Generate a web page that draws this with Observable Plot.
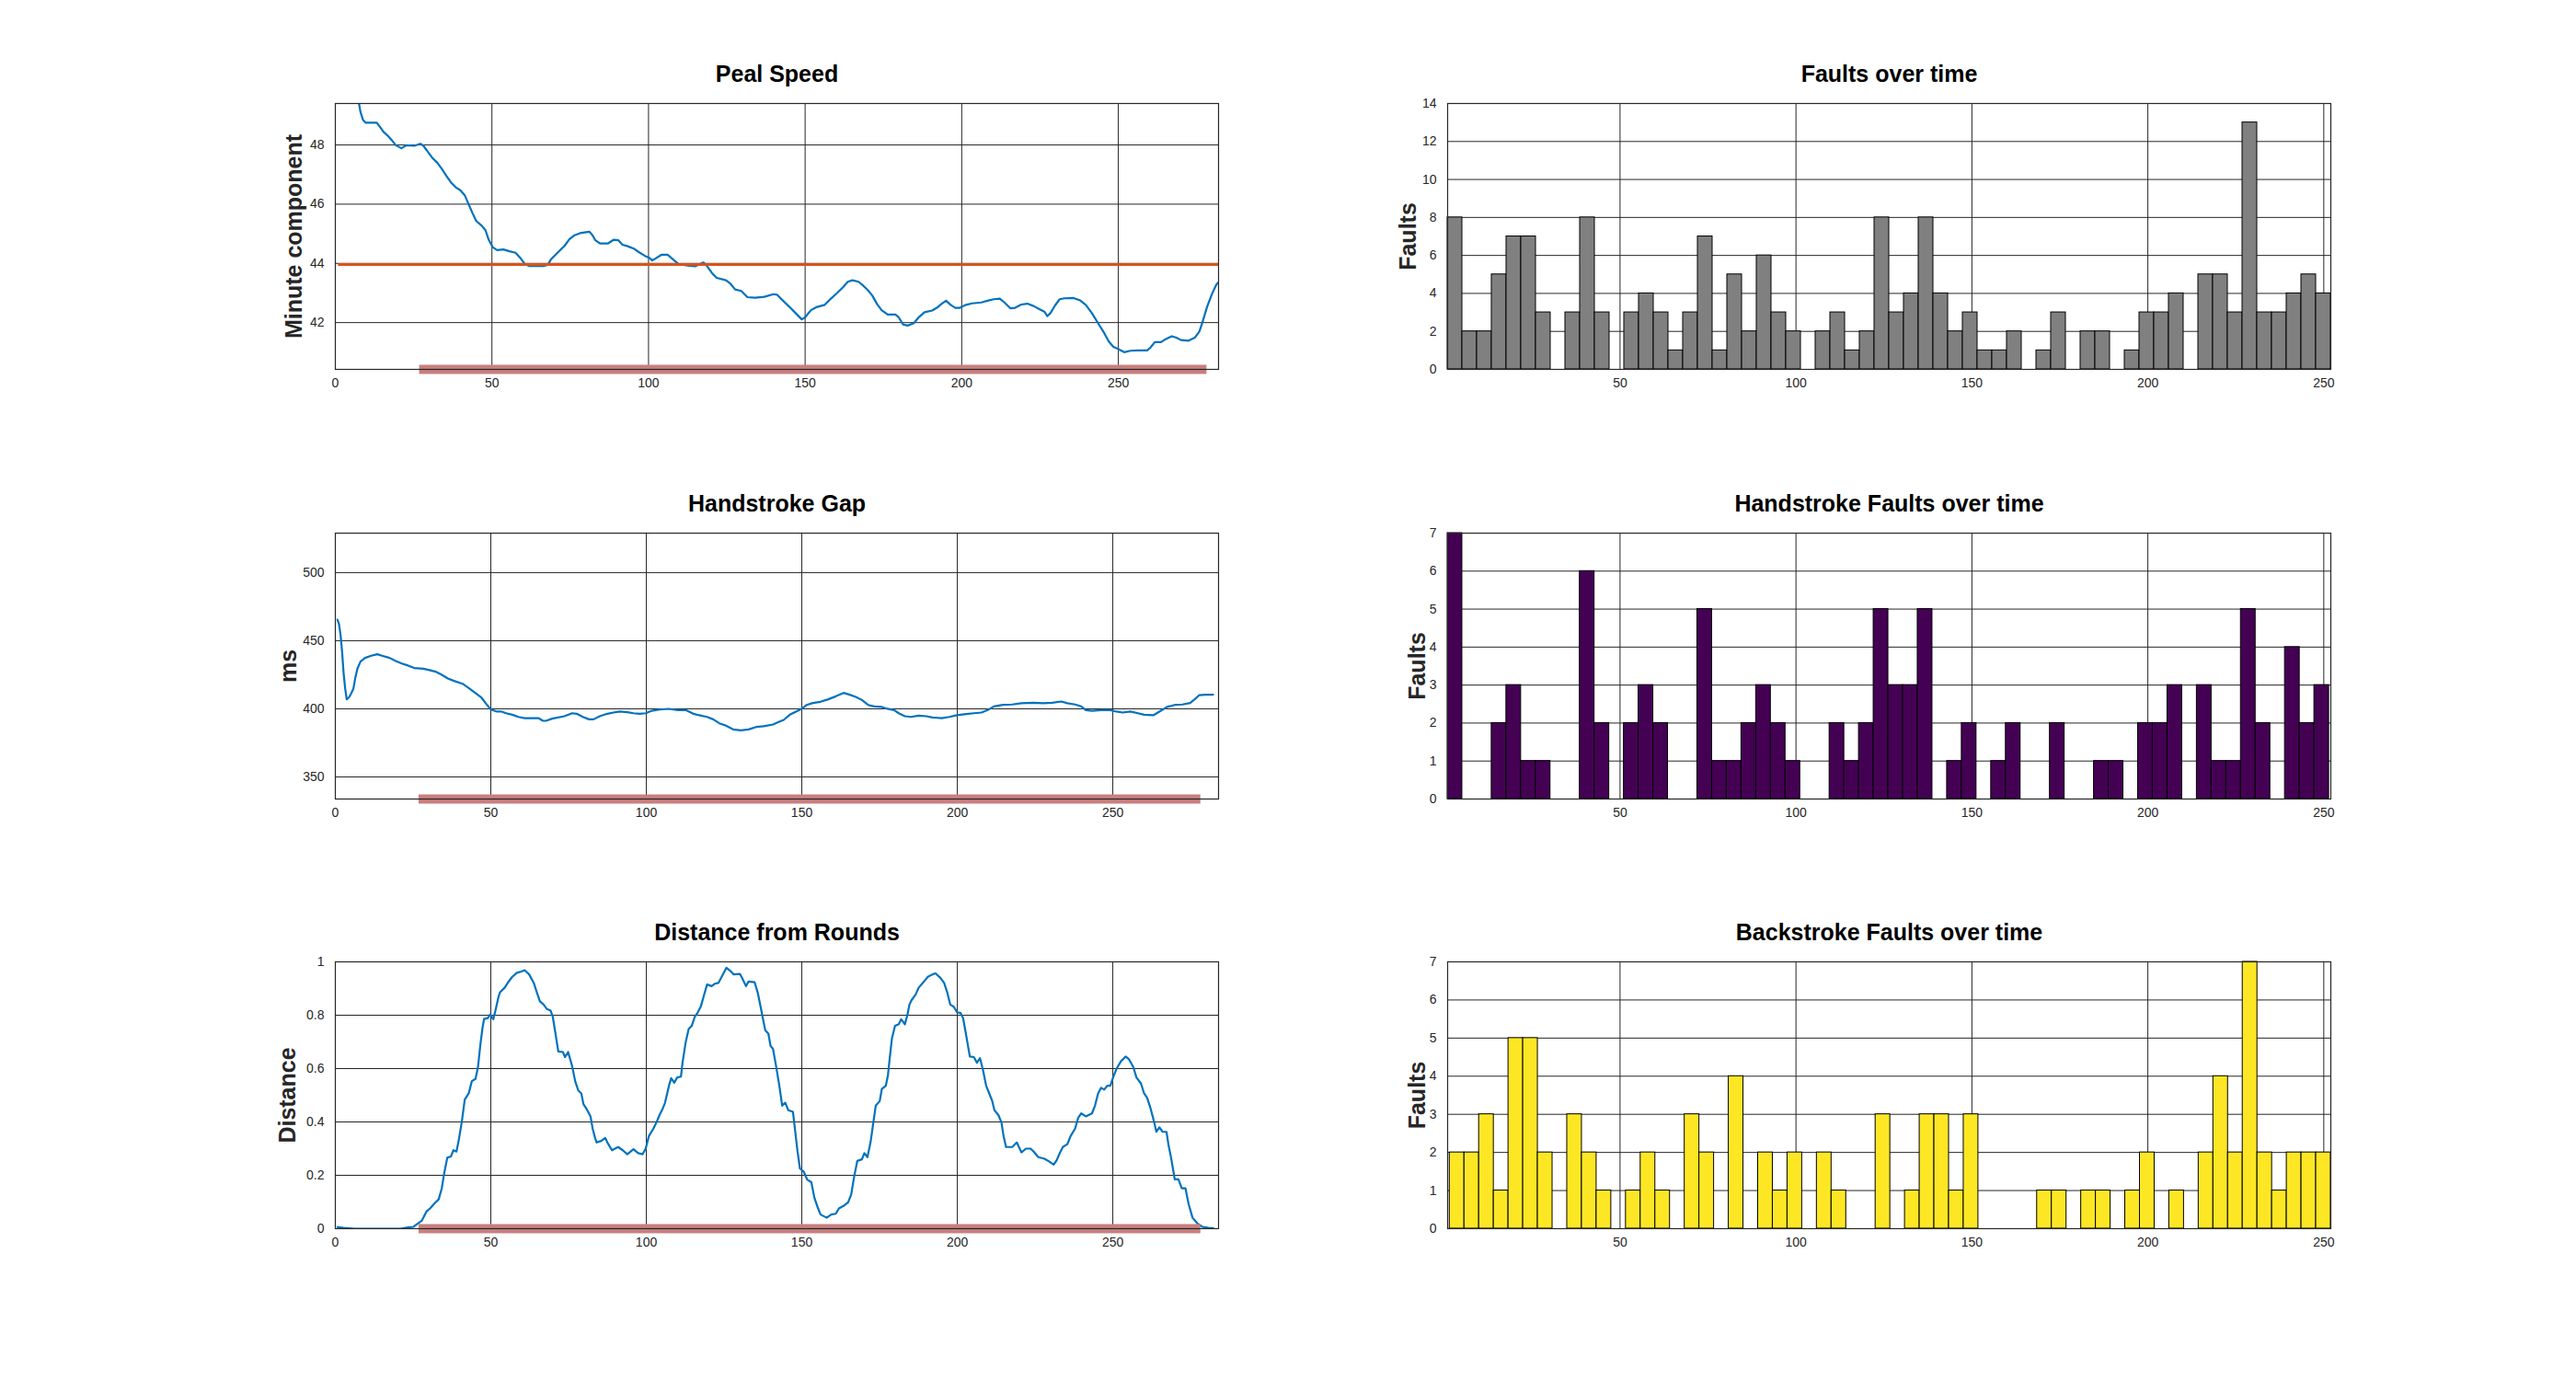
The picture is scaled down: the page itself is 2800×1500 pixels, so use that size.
<!DOCTYPE html>
<html>
<head>
<meta charset="utf-8">
<script src="https://cdn.jsdelivr.net/npm/d3@7"></script>
<script src="https://cdn.jsdelivr.net/npm/@observablehq/plot@0.6"></script>
<style>
  html, body { margin: 0; padding: 0; background: #fff; }
  #page { position: relative; width: 2800px; height: 1500px; background: #fff; overflow: hidden; }
  .chart { position: absolute; }
</style>
</head>
<body>
<div id="page"></div>
<script>
// ---------------- data ----------------
const titles = ["Peal Speed", "Handstroke Gap", "Distance from Rounds",
                "Faults over time", "Handstroke Faults over time", "Backstroke Faults over time"];
const yLabels = ["Minute component", "ms", "Distance", "Faults", "Faults", "Faults"];

const xTicksLine = [0, 50, 100, 150, 200, 250];
const xTicksHist = [50, 100, 150, 200, 250];
const pealTicks = [42, 44, 46, 48];
const gapTicks = [350, 400, 450, 500];
const distTicks = [0, 0.2, 0.4, 0.6, 0.8, 1];
const faultTicks = [0, 2, 4, 6, 8, 10, 12, 14];
const strokeTicks = [0, 1, 2, 3, 4, 5, 6, 7];

const targetSpeed = 43.96;          // orange reference line
const targetSpan = [1, 282];
const touchSpan = [26.9, 278.3];    // red bar under the line charts

// Peal speed (minute component) [change, value]
const pealSpeed = [
  [6.9,50.0],[7.55,49.40],[8.04,49.11],[8.82,48.85],[9.71,48.75],[13.24,48.75],[14.41,48.59],[15.39,48.44],
  [16.86,48.30],[18.04,48.16],[19.31,47.99],[21.08,47.89],[22.75,47.99],[25.2,47.97],[27.16,48.04],[28.14,47.97],
  [29.61,47.76],[31.08,47.55],[32.55,47.40],[34.02,47.19],[35.49,46.95],[36.96,46.73],[38.43,46.57],[39.9,46.47],
  [41.37,46.29],[42.35,46.05],[43.82,45.69],[45.0,45.43],[46.76,45.27],[47.94,45.12],[48.92,44.81],[50.2,44.55],
  [51.67,44.45],[53.63,44.47],[55.59,44.41],[57.55,44.36],[59.02,44.19],[60.49,43.98],[61.96,43.91],[66.37,43.91],
  [67.84,43.95],[68.82,44.13],[70.78,44.34],[73.24,44.60],[74.71,44.81],[76.18,44.94],[78.14,45.02],[81.08,45.07],
  [82.06,44.96],[83.04,44.78],[84.51,44.67],[86.96,44.67],[88.92,44.80],[90.39,44.78],[91.67,44.63],[93.33,44.58],
  [95.29,44.50],[96.76,44.39],[98.73,44.26],[100.2,44.19],[101.18,44.10],[102.16,44.16],[104.12,44.29],[106.08,44.29],
  [107.55,44.16],[109.51,43.98],[112.45,43.93],[114.9,43.90],[116.37,43.98],[117.55,44.03],[118.53,43.93],[120.29,43.67],
  [121.76,43.51],[124.71,43.43],[126.18,43.31],[127.65,43.12],[129.61,43.07],[131.57,42.86],[134.02,42.84],[136.96,42.87],
  [139.9,42.96],[141.08,42.94],[142.55,42.78],[145.0,42.53],[146.96,42.32],[148.92,42.11],[149.9,42.17],[151.86,42.42],
  [153.82,42.53],[156.27,42.60],[158.24,42.81],[160.2,43.0],[162.16,43.20],[163.63,43.38],[165.1,43.43],[167.06,43.38],
  [168.53,43.25],[170.0,43.10],[171.47,42.91],[172.94,42.63],[174.41,42.42],[176.37,42.27],[178.82,42.27],[179.8,42.19],
  [181.27,41.94],[182.75,41.90],[184.71,41.98],[186.18,42.17],[188.14,42.35],[190.59,42.41],[192.06,42.50],[193.53,42.63],
  [195.0,42.74],[196.47,42.60],[197.94,42.50],[199.41,42.50],[201.37,42.60],[203.33,42.65],[206.27,42.68],[208.24,42.74],
  [210.2,42.79],[212.16,42.81],[213.63,42.68],[215.59,42.48],[217.06,42.50],[219.02,42.61],[220.98,42.64],[222.94,42.56],
  [224.9,42.45],[226.37,42.37],[227.35,42.22],[228.33,42.32],[229.8,42.58],[231.27,42.79],[232.75,42.82],[235.69,42.83],
  [237.65,42.76],[239.61,42.60],[241.57,42.32],[243.53,41.98],[245.49,41.65],[246.96,41.36],[248.43,41.18],[249.9,41.11],
  [251.86,41.0],[253.82,41.05],[256.27,41.06],[259.22,41.06],[260.2,41.15],[261.67,41.34],[263.63,41.34],[265.1,41.44],
  [267.06,41.54],[268.53,41.49],[270.0,41.41],[272.45,41.39],[274.41,41.49],[275.88,41.70],[276.86,42.01],[278.33,42.53],
  [279.8,42.94],[281.27,43.28],[282.25,43.39]
];

// Handstroke gap (ms) [change, value]
const handGap = [
  [0.69,465.5],[1.18,462.2],[1.68,454.3],[2.17,441.9],[2.66,426.1],[3.16,414.9],[3.65,407.0],[4.44,408.6],
  [5.13,411.5],[5.82,414.9],[6.41,422.7],[7.10,429.5],[8.09,434.7],[9.57,437.4],[11.54,439.0],[13.51,440.1],
  [14.99,439.0],[17.46,437.4],[19.43,435.1],[21.4,433.3],[23.37,431.8],[25.35,430.0],[28.3,429.5],[30.28,428.4],
  [32.25,427.3],[34.22,425.0],[36.19,422.3],[38.17,420.5],[41.12,418.2],[43.1,414.9],[45.07,411.5],[47.04,408.1],
  [48.52,403.6],[50.0,399.5],[51.97,398.0],[53.45,398.0],[54.93,396.8],[56.9,395.7],[58.88,394.1],[60.85,393.2],
  [65.29,393.2],[66.77,391.2],[67.75,391.2],[69.72,392.8],[73.67,394.6],[76.13,396.8],[77.61,396.4],[79.59,394.1],
  [81.56,392.3],[83.04,392.3],[85.01,394.6],[87.48,396.4],[89.45,397.3],[91.42,398.0],[93.89,397.5],[95.86,396.8],
  [97.83,396.4],[99.8,396.8],[101.77,398.6],[104.24,399.5],[107.2,400.0],[110.16,399.1],[112.63,399.1],[115.09,396.4],
  [117.06,395.3],[119.53,394.1],[121.5,392.3],[123.47,389.4],[125.45,387.8],[127.91,384.9],[130.38,384.2],[132.84,384.9],
  [135.31,386.7],[137.77,387.2],[140.73,388.5],[142.7,390.5],[144.18,391.9],[146.15,395.7],[148.13,398.0],[150.1,400.2],
  [151.58,402.9],[153.55,404.3],[156.02,405.2],[158.48,407.0],[160.95,409.2],[163.41,411.7],[165.38,410.4],[167.36,408.8],
  [169.33,406.5],[171.3,402.9],[173.27,401.8],[175.74,401.4],[177.22,400.2],[179.68,399.1],[181.16,396.8],[183.14,394.6],
  [185.11,394.1],[187.57,395.0],[190.04,394.6],[192.01,393.7],[194.97,393.2],[197.44,394.1],[199.9,395.3],[202.86,396.2],
  [205.33,396.8],[207.79,397.3],[209.76,399.1],[211.74,401.8],[214.69,402.9],[217.65,403.2],[220.61,404.1],[224.56,404.5],
  [227.51,404.1],[230.47,404.5],[233.43,405.4],[235.4,404.1],[237.87,403.2],[239.84,401.8],[241.32,399.1],[243.29,398.6],
  [246.25,399.1],[249.21,399.1],[251.18,398.0],[253.15,397.3],[255.62,398.0],[258.09,396.8],[260.06,395.7],[263.02,395.3],
  [264.99,398.0],[267.46,401.4],[269.92,402.9],[272.39,403.2],[274.85,404.3],[276.33,407.0],[277.81,410.1],[279.78,410.4],
  [282.25,410.4]
];

// Distance from rounds [change, value]
const distance = [
  [0.69,0.006],[2.66,0.003],[6.11,0],[20.91,0],[23.37,0.005],[25.15,0.007],[26.33,0.018],[27.81,0.030],
  [29.29,0.064],[30.47,0.076],[31.76,0.093],[33.23,0.110],[34.22,0.151],[35.01,0.208],[36.0,0.266],[37.18,0.271],
  [37.97,0.294],[38.95,0.289],[39.65,0.329],[40.63,0.398],[41.62,0.484],[42.9,0.507],[43.89,0.553],[45.07,0.561],
  [45.86,0.605],[46.65,0.691],[47.34,0.754],[47.83,0.786],[49.01,0.789],[49.8,0.803],[50.79,0.785],[51.48,0.817],
  [52.47,0.869],[52.96,0.886],[54.44,0.903],[55.72,0.926],[56.9,0.944],[58.38,0.959],[59.86,0.964],[60.85,0.969],
  [62.33,0.953],[63.81,0.921],[64.79,0.886],[65.78,0.852],[66.96,0.840],[68.05,0.823],[69.23,0.817],[69.92,0.794],
  [70.71,0.737],[71.69,0.664],[73.17,0.662],[73.87,0.643],[74.85,0.662],[76.13,0.610],[77.12,0.553],[78.11,0.518],
  [79.09,0.507],[79.78,0.467],[80.77,0.449],[82.05,0.421],[82.74,0.375],[83.53,0.340],[84.02,0.323],[85.5,0.329],
  [86.79,0.340],[87.48,0.323],[88.95,0.294],[90.93,0.306],[92.41,0.294],[93.89,0.279],[95.86,0.298],[97.34,0.283],
  [98.82,0.279],[99.8,0.300],[100.79,0.346],[102.27,0.375],[103.25,0.398],[104.24,0.426],[105.23,0.449],[106.02,0.472],
  [106.71,0.507],[107.4,0.541],[107.99,0.564],[108.97,0.547],[109.96,0.567],[111.14,0.570],[111.64,0.622],[112.63,0.697],
  [113.61,0.748],[114.6,0.760],[115.58,0.794],[116.57,0.811],[117.56,0.834],[118.54,0.875],[119.53,0.915],[121.0,0.909],
  [121.99,0.918],[123.17,0.921],[124.46,0.949],[125.74,0.978],[126.92,0.967],[128.11,0.953],[130.08,0.955],[130.87,0.938],
  [132.05,0.909],[132.84,0.926],[134.81,0.924],[135.8,0.886],[136.79,0.829],[137.57,0.783],[138.26,0.743],[139.25,0.731],
  [139.94,0.685],[140.73,0.674],[141.72,0.610],[142.7,0.541],[143.69,0.461],[144.67,0.472],[145.66,0.444],[147.14,0.438],
  [147.83,0.369],[148.62,0.289],[149.41,0.225],[150.59,0.214],[151.78,0.183],[153.06,0.174],[154.04,0.116],[155.03,0.082],
  [156.02,0.053],[157.99,0.041],[159.47,0.053],[160.95,0.056],[161.93,0.076],[163.41,0.085],[164.89,0.099],[165.88,0.128],
  [166.86,0.197],[167.85,0.254],[169.33,0.260],[170.12,0.283],[171.1,0.268],[172.09,0.323],[172.78,0.380],[173.77,0.461],
  [175.05,0.478],[175.74,0.524],[177.02,0.536],[177.71,0.576],[178.21,0.633],[178.99,0.714],[179.98,0.760],[181.16,0.766],
  [181.95,0.785],[183.14,0.766],[183.93,0.800],[184.62,0.840],[185.31,0.857],[186.59,0.877],[187.57,0.903],[189.05,0.923],
  [190.53,0.944],[192.01,0.953],[193.0,0.957],[194.48,0.941],[195.76,0.921],[196.75,0.886],[197.73,0.840],[198.92,0.831],
  [199.9,0.811],[201.08,0.808],[201.87,0.789],[202.66,0.737],[203.35,0.691],[204.04,0.645],[205.33,0.643],[206.31,0.622],
  [207.3,0.639],[208.28,0.593],[209.27,0.536],[210.26,0.507],[211.24,0.478],[211.93,0.444],[213.21,0.426],[214.2,0.398],
  [214.89,0.346],[215.68,0.306],[217.65,0.306],[219.13,0.323],[220.61,0.286],[222.09,0.300],[223.57,0.300],[224.56,0.289],
  [226.04,0.268],[228.01,0.262],[229.49,0.252],[230.97,0.240],[231.95,0.256],[232.94,0.283],[233.93,0.306],[235.4,0.317],
  [236.39,0.346],[237.87,0.375],[238.86,0.415],[239.84,0.432],[241.32,0.421],[243.29,0.432],[244.28,0.461],[245.27,0.507],
  [246.25,0.528],[247.24,0.521],[248.23,0.536],[249.21,0.536],[250.2,0.570],[251.18,0.599],[252.66,0.628],[254.14,0.645],
  [255.13,0.636],[256.61,0.605],[257.59,0.567],[259.07,0.544],[260.06,0.507],[261.05,0.490],[262.03,0.455],[263.22,0.403],
  [264.0,0.363],[264.99,0.380],[265.98,0.363],[267.26,0.363],[267.95,0.311],[268.74,0.266],[269.92,0.185],[271.1,0.185],
  [272.19,0.151],[273.37,0.151],[274.36,0.093],[275.64,0.041],[277.32,0.018],[278.8,0.007],[280.78,0.003],[282.25,0.002]
];

// Histogram counts (60 bins each)
const faultCounts = [8,2,2,5,7,7,3,0,3,8, 3,0,3,4,3,1,3,7,1,5, 2,6,3,2,0,2,3,1,2,8,
                     3,4,8,4,2,3,1,1,2,0, 1,3,0,2,2,0,1,3,3,4, 0,5,5,3,13,3,3,4,5,4];
const handCounts  = [7,0,0,2,3,1,1,0,0,6, 2,0,2,3,2,0,0,5,1,1, 2,3,2,1,0,0,2,1,2,5,
                     3,3,5,0,1,2,0,1,2,0, 0,2,0,0,1,1,0,2,2,3, 0,3,1,1,5,2,0,4,2,3];
const backCounts  = [2,2,3,1,5,5,2,0,3,2, 1,0,1,2,1,0,3,2,0,4, 0,2,1,2,0,2,1,0,0,3,
                     0,1,3,3,1,3,0,0,0,0, 1,1,0,1,1,0,1,2,0,1, 0,2,4,2,7,2,1,2,2,2];
const faultRange = [1, 252];
const handRange  = [1, 251.5];
const backRange  = [1.6, 252];

// ---------------- layout ----------------
const page = document.getElementById("page");
const FONT = "'Liberation Sans', Arial, Helvetica, sans-serif";
const INK = "#262626";
const rowTop = [112, 579, 1045];
const rowH = [289, 289, 290];
const MT = 100, MB = 60, MR = 40;
const fmt = d => `${d}`;

function place(svg, left, top) {
  const d = document.createElement("div");
  d.className = "chart";
  d.style.left = left + "px";
  d.style.top = top + "px";
  d.appendChild(svg);
  page.appendChild(d);
}

function commonMarks(title, yLabel, labelDx) {
  return [
    Plot.text([title], {frameAnchor: "top", dy: -24, lineAnchor: "bottom", text: d => d,
      fontSize: 25, fontWeight: "bold", fill: "#000"}),
    Plot.text([yLabel], {frameAnchor: "left", dx: labelDx, rotate: -90, lineAnchor: "bottom",
      textAnchor: "middle", text: d => d, fontSize: 25, fontWeight: "bold", fill: INK})
  ];
}

function lineChart({row, data, xDomain, yDomain, yTicks, title, yLabel, labelDx, target}) {
  const svgLeft = 200, plotLeft = 364, plotW = 960;
  const marks = [
    Plot.gridX(xTicksLine, {stroke: INK, strokeOpacity: 1, strokeWidth: 1}),
    Plot.gridY(yTicks, {stroke: INK, strokeOpacity: 1, strokeWidth: 1}),
    Plot.line(data, {x: d => d[0], y: d => d[1], stroke: "#0072BD", strokeWidth: 2.2, clip: true})
  ];
  if (target) {
    marks.push(Plot.ruleY([targetSpeed], {x1: targetSpan[0], x2: targetSpan[1], stroke: "#D95319", strokeWidth: 3}));
  }
  marks.push(
    Plot.ruleY([yDomain[0]], {x1: touchSpan[0], x2: touchSpan[1], stroke: "#c97f7f", strokeWidth: 10}),
    Plot.frame({stroke: INK, strokeWidth: 1.2}),
    Plot.axisX(xTicksLine, {tickSize: 0, tickPadding: 10, label: null, fill: INK, tickFormat: fmt}),
    Plot.axisY(yTicks, {tickSize: 0, tickPadding: 12, label: null, fill: INK, tickFormat: fmt}),
    ...commonMarks(title, yLabel, labelDx)
  );
  const svg = Plot.plot({
    width: plotLeft - svgLeft + plotW + MR,
    height: MT + rowH[row] + MB,
    marginLeft: plotLeft - svgLeft, marginRight: MR, marginTop: MT, marginBottom: MB,
    x: {domain: xDomain},
    y: {domain: yDomain},
    style: {fontFamily: FONT, fontSize: "14px", color: INK, background: "transparent", overflow: "visible"},
    marks
  });
  place(svg, svgLeft, rowTop[row] - MT);
}

function histChart({row, counts, range, yMax, yTicks, fill, title, labelDx}) {
  const svgLeft = 1400, plotLeft = 1573, plotW = 960;
  const w = (range[1] - range[0]) / counts.length;
  const bins = counts.map((c, i) => ({x1: range[0] + i * w, x2: range[0] + (i + 1) * w, n: c}))
                     .filter(d => d.n > 0);
  const svg = Plot.plot({
    width: plotLeft - svgLeft + plotW + MR,
    height: MT + rowH[row] + MB,
    marginLeft: plotLeft - svgLeft, marginRight: MR, marginTop: MT, marginBottom: MB,
    x: {domain: faultRange},
    y: {domain: [0, yMax]},
    style: {fontFamily: FONT, fontSize: "14px", color: INK, background: "transparent", overflow: "visible"},
    marks: [
      Plot.gridX(xTicksHist, {stroke: INK, strokeOpacity: 1, strokeWidth: 1}),
      Plot.gridY(yTicks, {stroke: INK, strokeOpacity: 1, strokeWidth: 1}),
      Plot.rectY(bins, {x1: "x1", x2: "x2", y1: 0, y2: "n", fill, stroke: "#000", strokeWidth: 1}),
      Plot.frame({stroke: INK, strokeWidth: 1.2}),
      Plot.axisX(xTicksHist, {tickSize: 0, tickPadding: 10, label: null, fill: INK, tickFormat: fmt}),
      Plot.axisY(yTicks, {tickSize: 0, tickPadding: 12, label: null, fill: INK, tickFormat: fmt}),
      ...commonMarks(title, yLabels[3 + row], labelDx)
    ]
  });
  place(svg, svgLeft, rowTop[row] - MT);
}

lineChart({row: 0, data: pealSpeed, xDomain: [0, 282], yDomain: [40.42, 49.4], yTicks: pealTicks,
  title: titles[0], yLabel: yLabels[0], labelDx: -37, target: true});
lineChart({row: 1, data: handGap, xDomain: [0, 284], yDomain: [333.8, 529], yTicks: gapTicks,
  title: titles[1], yLabel: yLabels[1], labelDx: -43});
lineChart({row: 2, data: distance, xDomain: [0, 284], yDomain: [0, 1], yTicks: distTicks,
  title: titles[2], yLabel: yLabels[2], labelDx: -44});

histChart({row: 0, counts: faultCounts, range: faultRange, yMax: 14, yTicks: faultTicks, fill: "#808080",
  title: titles[3], labelDx: -35});
histChart({row: 1, counts: handCounts, range: handRange, yMax: 7, yTicks: strokeTicks, fill: "#440154",
  title: titles[4], labelDx: -25});
histChart({row: 2, counts: backCounts, range: backRange, yMax: 7, yTicks: strokeTicks, fill: "#FDE725",
  title: titles[5], labelDx: -25});
</script>
</body>
</html>
